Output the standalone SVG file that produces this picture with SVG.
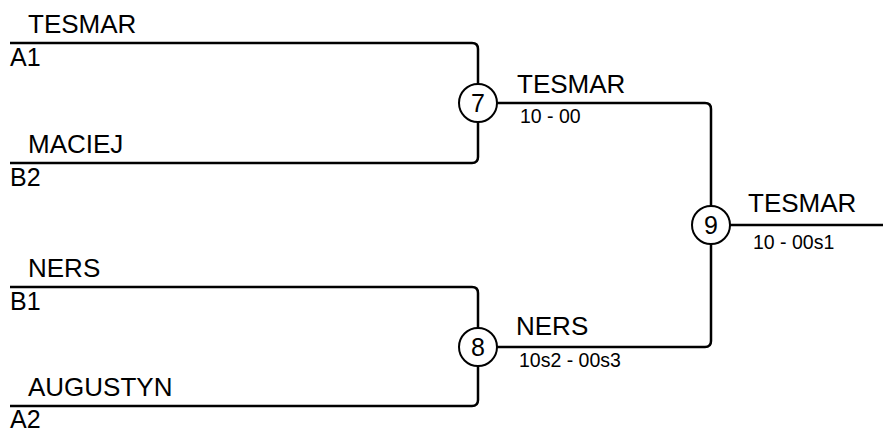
<svg xmlns="http://www.w3.org/2000/svg" width="883" height="432" viewBox="0 0 883 432">
<style>
.ln{fill:none;stroke:#000;stroke-width:2.5;stroke-linejoin:round}
.nd{fill:#fff;stroke:#000;stroke-width:2}
text{font-family:"Liberation Sans",Arial,sans-serif;fill:#000}
.nm{font-size:26px}
.sd{font-size:25px}
.sc{font-size:19.5px}
.num{font-size:25px;text-anchor:middle}
</style>
<rect width="883" height="432" fill="#fff"/>
<g id="connectors">
<path class="ln" d="M10,43 H472 Q478,43 478,49 V84"/>
<path class="ln" d="M10,163 H472 Q478,163 478,157 V122"/>
<path class="ln" d="M10,287 H472 Q478,287 478,293 V328"/>
<path class="ln" d="M10,406 H472 Q478,406 478,400 V366"/>
<path class="ln" d="M497,103 H705 Q711,103 711,109 V206"/>
<path class="ln" d="M497,347 H705 Q711,347 711,341 V244"/>
<path class="ln" d="M730,225 H883"/>
</g>
<g id="entry-tesmar"><text class="nm" x="28" y="33">TESMAR</text><text class="sd" x="10" y="66">A1</text></g>
<g id="entry-maciej"><text class="nm" x="28" y="153">MACIEJ</text><text class="sd" x="10" y="186">B2</text></g>
<g id="entry-ners"><text class="nm" x="28" y="277">NERS</text><text class="sd" x="10" y="310">B1</text></g>
<g id="entry-augustyn"><text class="nm" x="28" y="396">AUGUSTYN</text><text class="sd" x="10" y="428">A2</text></g>
<g id="match-7"><circle class="nd" cx="478" cy="103" r="19"/><text class="num" x="478" y="112">7</text>
<text class="nm" x="517" y="93">TESMAR</text><text class="sc" x="520" y="123">10 - 00</text></g>
<g id="match-8"><circle class="nd" cx="478" cy="347" r="19"/><text class="num" x="478" y="356">8</text>
<text class="nm" x="516" y="335">NERS</text><text class="sc" x="519" y="367">10s2 - 00s3</text></g>
<g id="match-9"><circle class="nd" cx="711" cy="225" r="19"/><text class="num" x="711" y="234">9</text>
<text class="nm" x="748" y="212">TESMAR</text><text class="sc" x="753" y="249">10 - 00s1</text></g>
</svg>
